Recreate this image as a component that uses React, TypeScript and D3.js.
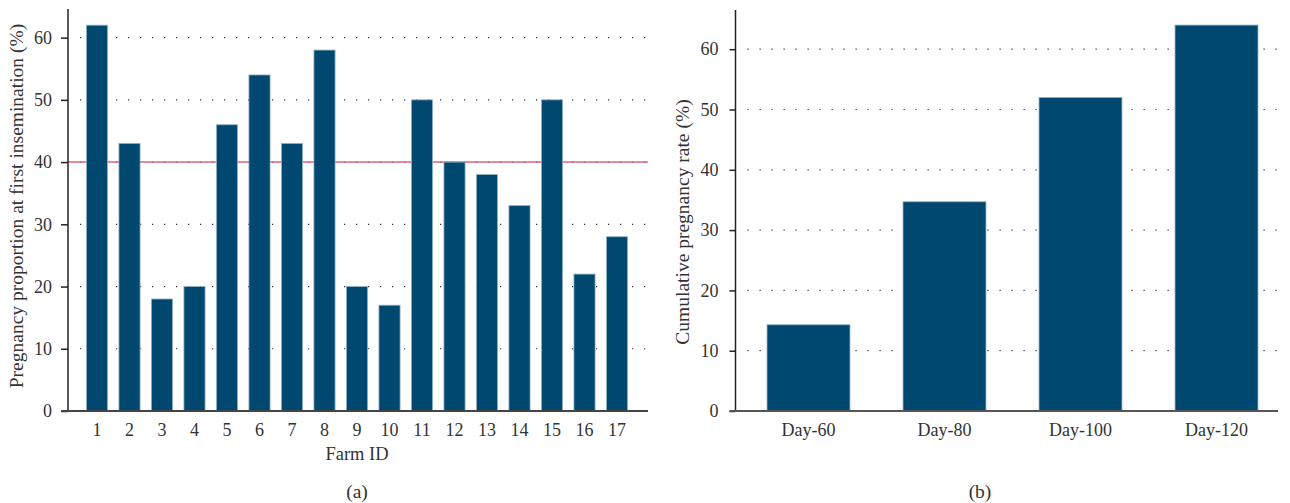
import React, { useEffect, useRef } from 'react';
import * as d3 from 'd3';

const farmIds = ['1', '2', '3', '4', '5', '6', '7', '8', '9', '10', '11', '12', '13', '14', '15', '16', '17'];
const farmRates = [62, 43, 18, 20, 46, 54, 43, 58, 20, 17, 50, 40, 38, 33, 50, 22, 28];
const threshold = 40;

const days = ['Day-60', 'Day-80', 'Day-100', 'Day-120'];
const cumulativeRates = [14.3, 34.7, 52, 64];

const yTicks = [0, 10, 20, 30, 40, 50, 60];

const BAR_FILL = '#00486f';
const BAR_EDGE = '#8fb2c7';
const FONT = '"Liberation Serif", "DejaVu Serif", serif';
const TEXT = '#333';

const App: React.FC = () => {
  const svgRef = useRef<SVGSVGElement>(null);

  useEffect(() => {
    const svg = d3.select(svgRef.current);
    svg.selectAll('*').remove();

    const label = (g: any, x: number, y: number, txt: string, size: number, rotate = false) =>
      g.append('text')
        .attr('transform', rotate ? `translate(${x},${y}) rotate(-90)` : `translate(${x},${y})`)
        .attr('text-anchor', 'middle')
        .style('font-family', FONT)
        .style('font-size', `${size}px`)
        .attr('fill', TEXT)
        .text(txt);

    // ---- panel (a) ----
    const a = { left: 68, right: 648, top: 9, bottom: 411 };
    const xA = d3.scaleBand<string>()
      .domain(farmIds)
      .range([80.75, 633.25])
      .paddingInner(0.35)
      .paddingOuter(0.175);
    const yA = d3.scaleLinear().domain([0, 64.6]).range([a.bottom, a.top]);

    const gA = svg.append('g');

    // dotted grid
    gA.selectAll('line.grid')
      .data(yTicks.filter(t => t > 0))
      .enter()
      .append('line')
      .attr('x1', a.left + 12)
      .attr('x2', a.right)
      .attr('y1', d => yA(d))
      .attr('y2', d => yA(d))
      .attr('stroke', '#333')
      .attr('stroke-width', 1.2)
      .attr('stroke-dasharray', '1.2,10.8');

    // threshold line
    gA.append('line')
      .attr('x1', a.left)
      .attr('x2', a.right)
      .attr('y1', yA(threshold))
      .attr('y2', yA(threshold))
      .attr('stroke', '#e0627a')
      .attr('stroke-width', 1.5);

    gA.selectAll('rect.bar')
      .data(farmRates)
      .enter()
      .append('rect')
      .attr('x', (_, i) => xA(farmIds[i]) as number)
      .attr('y', d => yA(d))
      .attr('width', xA.bandwidth())
      .attr('height', d => a.bottom - yA(d))
      .attr('fill', BAR_FILL)
      .attr('stroke', BAR_EDGE)
      .attr('stroke-width', 0.8);

    // y axis
    const axA = gA.append('g')
      .attr('transform', `translate(${a.left},0)`)
      .call(d3.axisLeft(yA).tickValues(yTicks).tickSize(7).tickPadding(9).tickSizeOuter(0));
    axA.select('.domain').remove();
    axA.append('line')
      .attr('x1', 0).attr('x2', 0)
      .attr('y1', a.top).attr('y2', a.bottom)
      .attr('stroke', '#222').attr('stroke-width', 1.5);
    axA.selectAll('.tick line').attr('stroke', '#222').attr('stroke-width', 1.5);
    axA.selectAll('.tick text')
      .style('font-family', FONT)
      .style('font-size', '18px')
      .attr('fill', TEXT);

    // x axis
    const axAx = gA.append('g')
      .attr('transform', `translate(0,${a.bottom})`)
      .call(d3.axisBottom(xA).tickSize(0).tickPadding(12));
    axAx.select('.domain').remove();
    axAx.selectAll('.tick text')
      .style('font-family', FONT)
      .style('font-size', '18px')
      .attr('fill', TEXT);
    gA.append('line')
      .attr('x1', a.left - 7).attr('x2', a.right)
      .attr('y1', a.bottom).attr('y2', a.bottom)
      .attr('stroke', '#444').attr('stroke-width', 2);

    label(gA, 357, 460, 'Farm ID', 18.5);
    label(gA, 23, 206, 'Pregnancy proportion at first insemination (%)', 19.5, true);
    label(gA, 357, 498, '(a)', 19.5);

    // ---- panel (b) ----
    const b = { left: 735.5, right: 1278, top: 10, bottom: 411 };
    const xB = d3.scaleBand<string>()
      .domain(days)
      .range([740.5, 1284.5])
      .paddingInner(0.39)
      .paddingOuter(0.195);
    const yB = d3.scaleLinear().domain([0, 66.5]).range([b.bottom, b.top]);

    const gB = svg.append('g');

    gB.selectAll('line.grid')
      .data(yTicks.filter(t => t > 0))
      .enter()
      .append('line')
      .attr('x1', b.left + 12)
      .attr('x2', b.right)
      .attr('y1', d => yB(d))
      .attr('y2', d => yB(d))
      .attr('stroke', '#333')
      .attr('stroke-width', 1.2)
      .attr('stroke-dasharray', '1.2,10.8');

    gB.selectAll('rect.bar')
      .data(cumulativeRates)
      .enter()
      .append('rect')
      .attr('x', (_, i) => xB(days[i]) as number)
      .attr('y', d => yB(d))
      .attr('width', xB.bandwidth())
      .attr('height', d => b.bottom - yB(d))
      .attr('fill', BAR_FILL)
      .attr('stroke', BAR_EDGE)
      .attr('stroke-width', 0.8);

    const axB = gB.append('g')
      .attr('transform', `translate(${b.left},0)`)
      .call(d3.axisLeft(yB).tickValues(yTicks).tickSize(6).tickPadding(11).tickSizeOuter(0));
    axB.select('.domain').remove();
    axB.append('line')
      .attr('x1', 0).attr('x2', 0)
      .attr('y1', b.top).attr('y2', b.bottom)
      .attr('stroke', '#222').attr('stroke-width', 1.5);
    axB.selectAll('.tick line').attr('stroke', '#222').attr('stroke-width', 1.5);
    axB.selectAll('.tick text')
      .style('font-family', FONT)
      .style('font-size', '18px')
      .attr('fill', TEXT);

    const axBx = gB.append('g')
      .attr('transform', `translate(0,${b.bottom})`)
      .call(d3.axisBottom(xB).tickSize(0).tickPadding(12));
    axBx.select('.domain').remove();
    axBx.selectAll('.tick text')
      .style('font-family', FONT)
      .style('font-size', '18px')
      .attr('fill', TEXT);
    gB.append('line')
      .attr('x1', b.left - 6).attr('x2', b.right)
      .attr('y1', b.bottom).attr('y2', b.bottom)
      .attr('stroke', '#555').attr('stroke-width', 2);

    label(gB, 689, 222, 'Cumulative pregnancy rate (%)', 19.5, true);
    label(gB, 980, 498, '(b)', 19.5);
  }, []);

  return (
    <svg
      ref={svgRef}
      width={1290}
      height={503}
      style={{ position: 'absolute', left: 0, top: 0, background: '#fff' }}
    />
  );
};

export default App;
